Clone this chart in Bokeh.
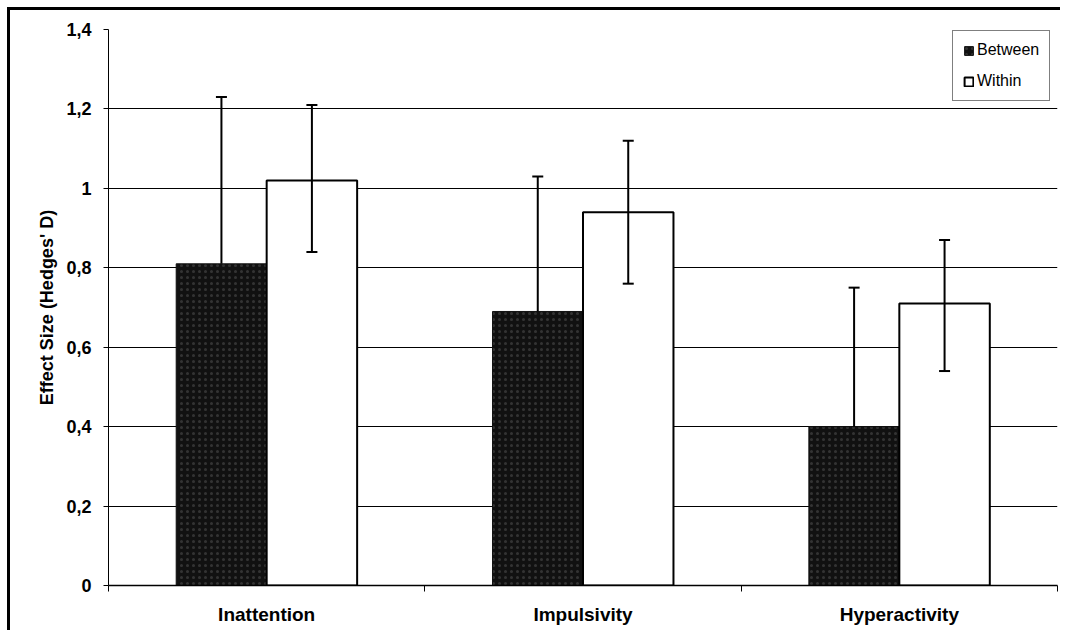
from bokeh.plotting import figure
from bokeh.models import (ColumnDataSource, FixedTicker, CustomJSTickFormatter, Legend,
                          LegendItem, Whisker, TeeHead, Range1d)
from bokeh.embed import file_html
from bokeh.resources import INLINE

categories = ["Inattention", "Impulsivity", "Hyperactivity"]
between = [0.81, 0.69, 0.40]
between_hi = [1.23, 1.03, 0.75]
within = [1.02, 0.94, 0.71]
within_hi = [1.21, 1.12, 0.87]
within_lo = [0.84, 0.76, 0.54]
y_ticks = [0, 0.2, 0.4, 0.6, 0.8, 1.0, 1.2, 1.4]

FONT = "Liberation Sans"
off = 0.143
bw = 0.286

idx = list(range(len(categories)))
xb = [i + 0.5 - off for i in idx]
xw = [i + 0.5 + off for i in idx]

p = figure(width=1050, height=620, output_backend="svg", toolbar_location=None,
           x_range=Range1d(0, 3), y_range=Range1d(0, 1.4),
           min_border_left=98, min_border_top=19, min_border_right=6, min_border_bottom=48)
p.styles = {"border-left": "3px solid black", "border-top": "3px solid black",
            "box-sizing": "content-box", "margin-left": "7px", "margin-top": "7px"}
p.outline_line_color = None
p.background_fill_color = "white"
p.border_fill_color = "white"

src_b = ColumnDataSource(dict(x=xb, top=between, hi=between_hi))
src_w = ColumnDataSource(dict(x=xw, top=within, hi=within_hi, lo=within_lo))

rb = p.vbar(x="x", top="top", width=bw, source=src_b, fill_color="#111111",
            line_color="#111111", line_width=1, hatch_pattern="dot", hatch_color="#333333",
            hatch_scale=6, hatch_weight=1)
rw = p.vbar(x="x", top="top", width=bw, source=src_w, fill_color="white",
            line_color="black", line_width=2)

p.add_layout(Whisker(source=src_b, base="x", upper="hi", lower="top", line_color="black",
                     line_width=2, level="overlay",
                     upper_head=TeeHead(size=11, line_color="black", line_width=2),
                     lower_head=None))
p.add_layout(Whisker(source=src_w, base="x", upper="hi", lower="lo", line_color="black",
                     line_width=2, level="overlay",
                     upper_head=TeeHead(size=11, line_color="black", line_width=2),
                     lower_head=TeeHead(size=11, line_color="black", line_width=2)))

# axes
p.yaxis.ticker = FixedTicker(ticks=y_ticks)
p.yaxis.formatter = CustomJSTickFormatter(code="var s = (Math.round(tick*10)/10).toString(); return s.replace('.', ',');")
p.yaxis.axis_label = "Effect Size (Hedges' D)"
p.yaxis.axis_label_text_font = FONT
p.yaxis.axis_label_text_font_style = "bold"
p.yaxis.axis_label_text_font_size = "18px"
p.yaxis.axis_label_text_color = "black"
p.yaxis.axis_label_standoff = 6
p.yaxis.major_label_text_font = FONT
p.yaxis.major_label_text_font_style = "bold"
p.yaxis.major_label_text_font_size = "18px"
p.yaxis.major_label_text_color = "black"
p.yaxis.major_label_standoff = 12
p.yaxis.major_tick_out = 5
p.yaxis.major_tick_in = 0
p.yaxis.minor_tick_line_color = None
p.yaxis.axis_line_color = "black"
p.yaxis.axis_line_width = 1
p.yaxis.major_tick_line_color = "black"

p.xaxis.ticker = FixedTicker(ticks=[0.5, 1.5, 2.5], minor_ticks=[0, 1, 2, 3])
p.xaxis.major_label_overrides = {0.5: categories[0], 1.5: categories[1], 2.5: categories[2]}
p.xaxis.major_tick_line_color = None
p.xaxis.minor_tick_out = 6
p.xaxis.minor_tick_in = 0
p.xaxis.minor_tick_line_color = "black"
p.xaxis.major_label_text_font = FONT
p.xaxis.major_label_text_font_style = "bold"
p.xaxis.major_label_text_font_size = "19px"
p.xaxis.major_label_text_color = "black"
p.xaxis.major_label_standoff = 12
p.xaxis.axis_line_color = "black"
p.xaxis.axis_line_width = 1.5

p.xgrid.grid_line_color = None
p.ygrid.ticker = FixedTicker(ticks=y_ticks)
p.ygrid.grid_line_color = "black"
p.ygrid.grid_line_width = 1

legend = Legend(items=[LegendItem(label="Between", renderers=[rb]),
                       LegendItem(label="Within", renderers=[rw])],
                location=(844, 484), orientation="vertical",
                border_line_color="black", border_line_width=1,
                background_fill_color="white", background_fill_alpha=1,
                label_text_font=FONT, label_text_font_size="16px", label_text_color="black",
                glyph_width=11, glyph_height=11, label_standoff=3,
                padding=10, spacing=13, margin=0, label_height=18)
p.add_layout(legend, "center")

open("out.html", "w").write(file_html(p, INLINE))
